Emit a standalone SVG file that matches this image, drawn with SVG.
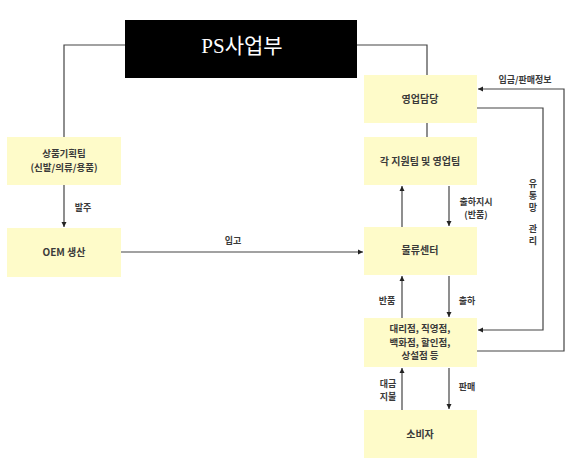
<svg xmlns="http://www.w3.org/2000/svg" width="582" height="465" viewBox="0 0 582 465">
<style>
.box{fill:#FEFBC9;}
.t{font-family:"Noto Sans CJK KR","Liberation Sans",sans-serif;font-weight:bold;font-size:10px;fill:#3a3a3a;text-anchor:middle;}
.m{font-family:"Noto Sans CJK KR","Liberation Sans",sans-serif;font-weight:bold;font-size:9.5px;fill:#3a3a3a;text-anchor:middle;}
.l{font-family:"Noto Sans CJK KR","Liberation Sans",sans-serif;font-weight:bold;font-size:9px;fill:#3a3a3a;text-anchor:middle;}
.c{fill:none;stroke:#444;stroke-width:1.2;}
</style>
<defs>
<marker id="ah" markerWidth="6" markerHeight="6" refX="5" refY="3" orient="auto" markerUnits="userSpaceOnUse">
<path d="M0,0.5 L5,3 L0,5.5 Z" fill="#222"/>
</marker>
</defs>
<rect width="582" height="465" fill="#fff"/>
<g id="connectors">
<path class="c" d="M125,45 H64 V137"/>
<path class="c" d="M357,45 H427 V75"/>
<path class="c" d="M427,123 V137"/>
<path class="c" d="M64,185 V227" marker-end="url(#ah)"/>
<path class="c" d="M121,252 H363" marker-end="url(#ah)"/>
<path class="c" d="M402,227 V186" marker-end="url(#ah)"/>
<path class="c" d="M449,186 V226" marker-end="url(#ah)"/>
<path class="c" d="M402,318 V276" marker-end="url(#ah)"/>
<path class="c" d="M449,276 V317" marker-end="url(#ah)"/>
<path class="c" d="M402,410 V368" marker-end="url(#ah)"/>
<path class="c" d="M449,368 V409" marker-end="url(#ah)"/>
<path class="c" d="M477,351 H564 V89 H478" marker-end="url(#ah)"/>
<path class="c" d="M477,108 H543 V330 H478" marker-end="url(#ah)"/>
<text class="l" x="83" y="211">발주</text>
<text class="l" x="233" y="244">입고</text>
<text class="l" x="525" y="83">입금/판매정보</text>
<text class="l" x="476" y="205">출하지시</text>
<text class="l" x="476" y="218">(반품)</text>
<text class="l" x="387" y="304">반품</text>
<text class="l" x="467" y="304">출하</text>
<text class="l" x="388" y="387">대금</text>
<text class="l" x="388" y="400">지불</text>
<text class="l" x="467" y="390">판매</text>
<text class="l" x="533" y="187">유</text>
<text class="l" x="533" y="199">통</text>
<text class="l" x="533" y="211">망</text>
<text class="l" x="533" y="232">관</text>
<text class="l" x="533" y="244">리</text>
</g>
<g id="ps">
<rect x="125" y="20" width="232" height="58" fill="#000"/>
<text x="242" y="53" font-family="Liberation Serif,Noto Sans CJK KR,serif" font-size="21" fill="#fff" text-anchor="middle">PS사업부</text>
</g>
<g id="planning">
<rect class="box" x="7" y="137" width="114" height="48"/>
<text class="m" x="64" y="157">상품기획팀</text>
<text class="m" x="64" y="171">(신발/의류/용품)</text>
</g>
<g id="oem">
<rect class="box" x="7" y="228" width="114" height="49"/>
<text class="t" x="64" y="256">OEM 생산</text>
</g>
<g id="sales">
<rect class="box" x="364" y="75" width="113" height="48"/>
<text class="t" x="420" y="103">영업담당</text>
</g>
<g id="teams">
<rect class="box" x="364" y="137" width="113" height="48"/>
<text class="t" x="420" y="165">각 지원팀 및 영업팀</text>
</g>
<g id="logistics">
<rect class="box" x="364" y="227" width="113" height="48"/>
<text class="t" x="420" y="254">물류센터</text>
</g>
<g id="stores">
<rect class="box" x="364" y="318" width="113" height="49"/>
<text class="m" x="420" y="332">대리점, 직영점,</text>
<text class="m" x="420" y="345.5">백화점, 할인점,</text>
<text class="m" x="420" y="359">상설점 등</text>
</g>
<g id="consumer">
<rect class="box" x="364" y="410" width="113" height="48"/>
<text class="t" x="420" y="438">소비자</text>
</g>
</svg>
